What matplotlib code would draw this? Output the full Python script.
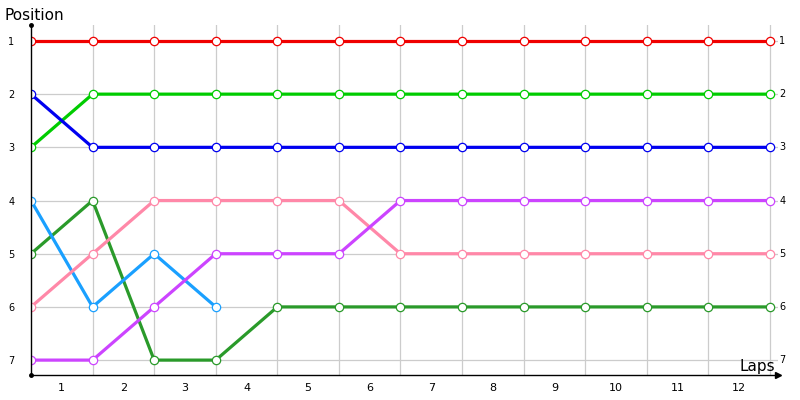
import numpy as np
import matplotlib.pyplot as plt

laps = list(range(13))
lap_labels = [str(i) for i in range(1, 13)]
positions = [1, 2, 3, 4, 5, 6, 7]

# position of each driver per lap (x = 0..12)
red = [1] * 13
green = [3] + [2] * 12
blue = [2] + [3] * 12
light_blue = [4, 6, 5, 6]
dark_green = [5, 4, 7, 7] + [6] * 9
pink = [6, 5, 4, 4, 4, 4] + [5] * 7
purple = [7, 7, 6, 5, 5, 5] + [4] * 7

series = [
    (red, "#f00000"),
    (green, "#00cc00"),
    (blue, "#0000f0"),
    (dark_green, "#2a9a2a"),
    (light_blue, "#1aa0ff"),
    (pink, "#ff88a8"),
    (purple, "#cc44ff"),
]

fig = plt.figure(figsize=(8, 4), dpi=100)
ax = fig.add_axes([31 / 800, 25 / 400, 747 / 800, 350 / 400])

xmax = 12.13
ax.set_xlim(0, xmax)
ax.set_ylim(7.28, 0.7)

# grid
for x in laps[1:]:
    ax.axvline(x, color="#cccccc", lw=0.9, zorder=0)
for y in positions:
    ax.axhline(y, color="#cccccc", lw=0.9, zorder=0)

for vals, col in series:
    ax.plot(laps[:len(vals)], vals, color=col, lw=2.3, zorder=2,
            marker="o", ms=6, mfc="white", mec=col, mew=0.9)

ax.spines["top"].set_visible(False)
ax.spines["right"].set_visible(False)
ax.spines["left"].set_linewidth(1.0)
ax.spines["bottom"].set_linewidth(1.0)

ax.set_yticks(positions)
ax.set_yticklabels([str(p) for p in positions], fontsize=7)
ax.set_xticks([x + 0.5 for x in laps[:-1]])
ax.set_xticklabels(lap_labels, fontsize=8)
ax.tick_params(length=0, pad=6)
ax.tick_params(axis="y", pad=12)

# right side position labels
for p in positions:
    ax.text(xmax + 0.02, p, str(p), fontsize=7, va="center", ha="left",
            clip_on=False)

# axis arrows / dots
ax.plot(1, 0, marker=">", color="black", ms=4.5, transform=ax.transAxes,
        clip_on=False)
ax.plot(0, 1, marker="o", color="black", ms=2.5, transform=ax.transAxes,
        clip_on=False)
ax.plot(0, 0, marker="o", color="black", ms=2.5, transform=ax.transAxes,
        clip_on=False)

fig.text(5 / 800, 1 - 16 / 400, "Position", fontsize=11, va="center", ha="left")
fig.text(775 / 800, 1 - 366 / 400, "Laps", fontsize=11, va="center", ha="right")

fig.savefig("out.png", dpi=100)
